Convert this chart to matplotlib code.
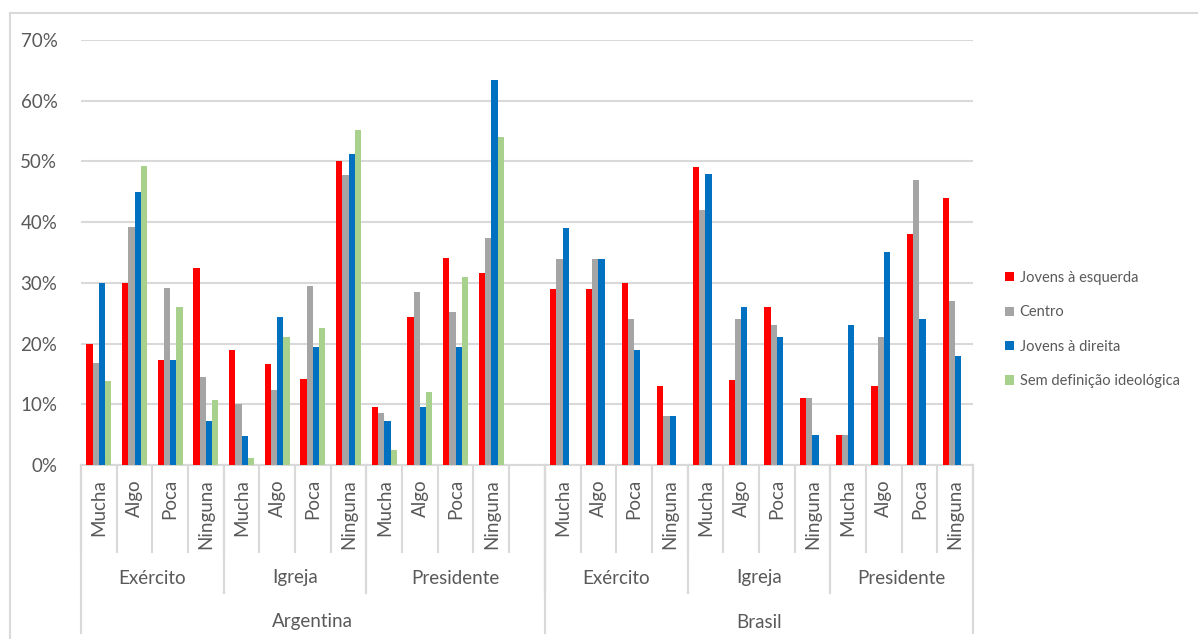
"""Grouped bars: confidence in institutions by ideology, Argentina vs Brasil."""

import matplotlib
matplotlib.use("Agg")
import matplotlib.pyplot as plt
from matplotlib.patches import Patch
from matplotlib.lines import Line2D
from matplotlib.ticker import PercentFormatter

plt.rcParams["font.family"] = ["Lato", "DejaVu Sans"]

# ---- data -----------------------------------------------------------------
countries = ["Argentina", "Brasil"]
institutions = ["Exército", "Igreja", "Presidente"]
levels = ["Mucha", "Algo", "Poca", "Ninguna"]

series_names = ["Jovens à esquerda", "Centro", "Jovens à direita",
                "Sem definição ideológica"]
series_colors = ["#FF0000", "#A5A5A5", "#0070C0", "#A9D18E"]

# Argentina: Exército (4), Igreja (4), Presidente (4)
arg_esquerda = [20.0, 30.0, 17.3, 32.4, 19.0, 16.6, 14.1, 50.0, 9.6, 24.4, 34.1, 31.6]
arg_centro = [16.8, 39.2, 29.2, 14.5, 10.0, 12.3, 29.4, 47.8, 8.6, 28.5, 25.2, 37.4]
arg_direita = [30.0, 45.0, 17.3, 7.3, 4.7, 24.4, 19.4, 51.3, 7.2, 9.6, 19.4, 63.4]
arg_sem_def = [13.8, 49.3, 26.0, 10.7, 1.2, 21.1, 22.6, 55.1, 2.5, 12.0, 31.0, 54.0]

# Brasil: no "Sem definição ideológica" series
bra_esquerda = [29, 29, 30, 13, 49, 14, 26, 11, 5, 13, 38, 44]
bra_centro = [34, 34, 24, 8, 42, 24, 23, 11, 5, 21, 47, 27]
bra_direita = [39, 34, 19, 8, 48, 26, 21, 5, 23, 35, 24, 18]

arg_values = [arg_esquerda, arg_centro, arg_direita, arg_sem_def]
bra_values = [bra_esquerda, bra_centro, bra_direita, None]

# ---- layout ---------------------------------------------------------------
W, H = 1198, 639
TXT = "#595959"
GRID = "#D9D9D9"

fig = plt.figure(figsize=(W / 100, H / 100), dpi=100)
ax = fig.add_axes([81 / W, 1 - 465 / H, (973 - 81) / W, (465 - 40) / H])

n_lev = len(levels)
n_arg = len(institutions) * n_lev          # 12 bar slots
gap = 1                                     # empty slot after Argentina
arg_x = list(range(n_arg))
bra_x = [n_arg + gap + i for i in range(n_arg)]
n_slots = n_arg * 2 + gap

bw = 0.175
offsets = [-1.5 * bw, -0.5 * bw, 0.5 * bw, 1.5 * bw]

for k, name in enumerate(series_names):
    ax.bar([x + offsets[k] for x in arg_x], [v / 100 for v in arg_values[k]],
           width=bw, color=series_colors[k], label=name, zorder=3)
    if bra_values[k] is not None:
        ax.bar([x + offsets[k] for x in bra_x], [v / 100 for v in bra_values[k]],
               width=bw, color=series_colors[k], zorder=3)

ax.set_xlim(-0.5, n_slots - 0.5)
ax.set_ylim(0, 0.70)
ax.set_yticks([i / 10 for i in range(8)])
ax.yaxis.set_major_formatter(PercentFormatter(1.0, decimals=0))
ax.tick_params(axis="y", length=0, pad=17, labelsize=13.5, labelcolor=TXT)
ax.set_xticks([])
ax.grid(axis="y", color=GRID, linewidth=1.5, zorder=0)
for s in ("top", "right", "left"):
    ax.spines[s].set_visible(False)
ax.spines["bottom"].set_color(GRID)
ax.spines["bottom"].set_linewidth(1.5)

# ---- multi-level category axis -------------------------------------------
tr = ax.get_xaxis_transform()
px = 1 / (465 - 40)          # one pixel in axes-fraction units
y_lev_lab = -14 * px
y_lev_end = -(552 - 465) * px
y_ins_lab = -(578 - 465) * px
y_ins_end = -(593 - 465) * px
y_cty_lab = -(622 - 465) * px
y_cty_end = -(633 - 465) * px

def vline(x, y_end):
    ax.add_line(Line2D([x, x], [0, y_end], transform=tr, color=GRID,
                       linewidth=1.5, clip_on=False))

for b in range(n_slots + 1):
    vline(b - 0.5, y_lev_end)

for x0 in (0, n_arg + gap):
    for j, inst in enumerate(institutions):
        for i, lev in enumerate(levels):
            ax.text(x0 + j * n_lev + i, y_lev_lab, lev, transform=tr,
                    rotation=90, ha="center", va="top", fontsize=13.5,
                    color=TXT)

# institution spans (last Argentina group includes the empty slot)
arg_spans = [(0, 4), (4, 8), (8, n_arg + gap)]
bra_spans = [(n_arg + gap + j * n_lev, n_arg + gap + (j + 1) * n_lev)
             for j in range(len(institutions))]
for spans in (arg_spans, bra_spans):
    for (a, b), inst in zip(spans, institutions):
        vline(a - 0.5, y_ins_end)
        vline(b - 0.5, y_ins_end)
        ax.text((a + b - 1) / 2, y_ins_lab, inst, transform=tr, ha="center",
                va="center", fontsize=13.5, color=TXT)

cty_spans = [(0, n_arg + gap), (n_arg + gap, n_slots)]
for (a, b), cty in zip(cty_spans, countries):
    vline(a - 0.5, y_cty_end)
    vline(b - 0.5, y_cty_end)
    ax.text((a + b - 1) / 2, y_cty_lab, cty, transform=tr, ha="center",
            va="center", fontsize=13.5, color=TXT)

# ---- legend ---------------------------------------------------------------
handles = [Patch(facecolor=c, edgecolor="none") for c in series_colors]
fig.legend(handles, series_names, loc="center left",
           bbox_to_anchor=(1005 / W, 1 - 329.5 / H), frameon=False,
           fontsize=10.5, labelcolor=TXT, handlelength=0.6, handleheight=0.6,
           handletextpad=0.4, labelspacing=1.4, borderaxespad=0,
           borderpad=0)

# chart-area border (only top and left edges visible in the crop)
fig.add_artist(Line2D([10 / W, 10 / W], [0, 1 - 13 / H], color=GRID,
                      linewidth=1.5, transform=fig.transFigure))
fig.add_artist(Line2D([10 / W, 1], [1 - 13 / H, 1 - 13 / H], color=GRID,
                      linewidth=1.5, transform=fig.transFigure))

fig.savefig("out.png", dpi=100)
